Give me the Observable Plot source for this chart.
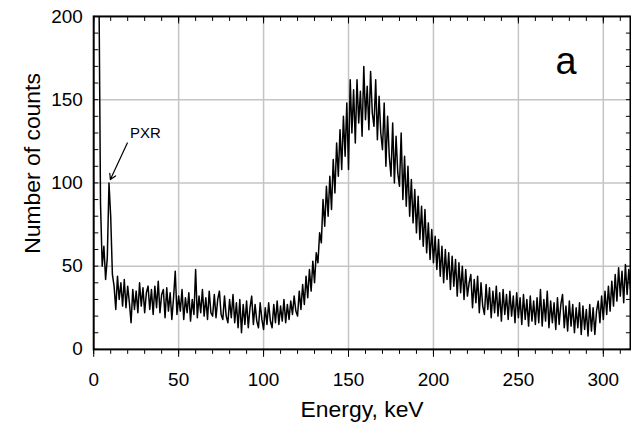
<!DOCTYPE html>
<html><head><meta charset="utf-8">
<script src="https://cdn.jsdelivr.net/npm/d3@7"></script>
<script src="https://cdn.jsdelivr.net/npm/@observablehq/plot@0.6"></script>
<style>
html,body{margin:0;padding:0;background:#fff;overflow:hidden;}
</style></head><body><div id="chart"></div>
<script>
// Spectrum: 1 keV channels starting at 3 keV
const startEnergy = 3;
const counts = [
  230, 88, 50, 62, 42, 55, 100, 80, 45, 38,
  24, 44, 30, 40, 26, 42, 25,
  38, 28, 16, 36, 24, 35, 22, 40, 26, 37,
  22, 34, 38, 24, 36, 21, 38, 25, 41, 22,
  33, 36, 19, 37, 23, 34, 18, 31, 47, 21,
  32, 23, 36, 18, 31, 22, 34, 17, 30, 21,
  48, 19, 32, 22, 36, 20, 31, 18, 35, 22,
  20, 33, 19, 30, 35, 21, 18, 32, 20, 16,
  30, 19, 33, 16, 28, 13, 30, 10, 27, 15,
  29, 13, 25, 32, 15, 27, 17, 13, 28, 18,
  12, 25, 15, 28, 17, 13, 27, 16, 29, 15,
  26, 17, 30, 16, 27, 18, 29, 21, 32, 23,
  20, 35, 24, 39, 27, 44, 31, 48, 35, 53,
  40, 58, 52, 70, 64, 90, 74, 98, 80, 104,
  84, 114, 94, 124, 104, 132, 108, 140, 116, 148,
  108, 162, 130, 156, 124, 162, 136, 155, 128, 170,
  138, 158, 132, 167, 142, 134, 162, 126, 152, 130,
  120, 148, 110, 140, 116, 104, 136, 100, 128, 106,
  98, 130, 90, 116, 86, 110, 80, 102, 76, 96,
  70, 92, 66, 86, 62, 84, 58, 76, 54, 72,
  52, 68, 48, 66, 44, 62, 40, 60, 42, 58,
  36, 56, 38, 54, 32, 52, 34, 50, 30, 48,
  32, 40, 45, 25, 42, 28, 44, 22, 40, 26,
  21, 39, 24, 37, 19, 35, 22, 38, 20, 34,
  17, 36, 21, 33, 18, 35, 20, 32, 16, 34,
  19, 31, 15, 33, 18, 30, 14, 32, 17, 29,
  15, 31, 16, 36, 14, 30, 17, 35, 13, 29,
  16, 28, 12, 31, 15, 27, 33, 13, 26, 11,
  29, 14, 27, 10, 25, 13, 28, 9, 26, 12,
  24, 8, 27, 11, 25, 9, 23, 29, 16, 32,
  18, 35, 21, 38, 23, 41, 26, 45, 29, 49,
  32, 47, 28, 51, 33, 48, 36
];
const xMajor = [0, 50, 100, 150, 200, 250, 300];
const xMinor = [0,10,20,30,40,50,60,70,80,90,100,110,120,130,140,150,160,170,180,190,200,210,220,230,240,250,260,270,280,290,300,310];
const yMajor = [0, 50, 100, 150, 200];
const yMinor = [0,10,20,30,40,50,60,70,80,90,100,110,120,130,140,150,160,170,180,190,200];
const xTitle = ["Energy, keV"];
const yTitle = ["Number of counts"];
const panelLetter = ["a"];
const pxrLabel = ["PXR"];

const data = counts.map((c, i) => ({energy: startEnergy + i, counts: c}));
const xMax = 316;
const font = "'Liberation Sans', Arial, sans-serif";

const chart = Plot.plot({
  width: 633,
  height: 424,
  marginLeft: 93.5,
  marginRight: 1,
  marginTop: 16,
  marginBottom: 74,
  x: {domain: [0, xMax]},
  y: {domain: [0, 200]},
  style: {fontFamily: font, fontSize: "19px", color: "#000", background: "#fff", overflow: "visible"},
  marks: [
    Plot.gridX(xMajor.filter(d => d > 0), {stroke: "#c4c4c4", strokeOpacity: 1, strokeWidth: 1.5}),
    Plot.gridY(yMajor.filter(d => d > 0 && d < 200), {stroke: "#c4c4c4", strokeOpacity: 1, strokeWidth: 1.5}),
    Plot.line(data, {x: "energy", y: "counts", curve: "linear", stroke: "#000", strokeWidth: 1.5, clip: true}),
    Plot.ruleX(xMinor, {y1: 200, y2: 197, stroke: "#000", strokeWidth: 1}),
    Plot.ruleX(xMajor, {y1: 200, y2: 195.5, stroke: "#000", strokeWidth: 1}),
    Plot.ruleY(yMinor, {x1: 0, x2: 3, stroke: "#000", strokeWidth: 1}),
    Plot.ruleY(yMinor, {x1: xMax, x2: xMax - 2.4, stroke: "#000", strokeWidth: 1}),
    Plot.axisX(xMinor, {tickSize: 5, tickFormat: () => "", label: null, strokeWidth: 1}),
    Plot.axisX(xMajor, {tickSize: 8, tickPadding: 15, fontSize: 19, label: null, strokeWidth: 1}),
    Plot.axisY(yMajor, {tickSize: 0, tickPadding: 11, fontSize: 19, label: null}),
    Plot.frame({stroke: "#000", strokeWidth: 2}),
    Plot.text(xTitle, {text: d => d, frameAnchor: "bottom", lineAnchor: "middle", textAnchor: "middle", dy: 60, fontSize: 23}),
    Plot.text(yTitle, {text: d => d, frameAnchor: "left", textAnchor: "middle", lineAnchor: "middle", rotate: -90, dx: -61, dy: -19.5, fontSize: 23}),
    Plot.text(panelLetter, {text: d => d, x: () => 278, y: () => 173, fontSize: 38}),
    Plot.text(pxrLabel, {text: d => d, x: () => 21.4, y: () => 130, textAnchor: "start", fontSize: 15}),
    Plot.arrow([{x1: 19.8, y1: 124, x2: 9.8, y2: 102}], {x1: "x1", y1: "y1", x2: "x2", y2: "y2", stroke: "#000", strokeWidth: 1.2, headLength: 8})
  ]
});
document.getElementById("chart").appendChild(chart);
</script></body></html>
